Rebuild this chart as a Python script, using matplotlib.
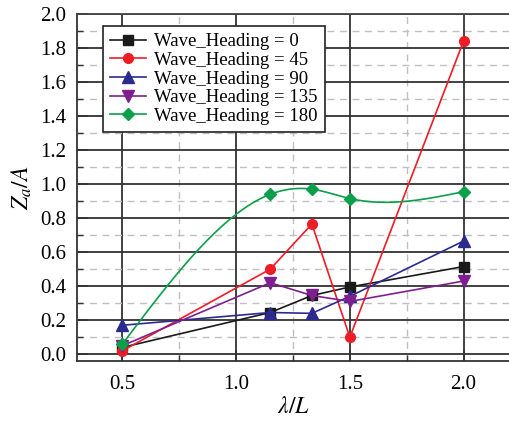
import numpy as np
import matplotlib
matplotlib.use("Agg")
import matplotlib.pyplot as plt
from matplotlib.ticker import MultipleLocator

plt.rcParams['font.family'] = ['Liberation Serif', 'DejaVu Serif']
plt.rcParams['mathtext.fontset'] = 'stix'

wave_length_ratio = [0.5, 1.15, 1.333, 1.5, 2.0]
heading_0 = [0.04, 0.245, 0.345, 0.395, 0.515]
heading_45 = [0.02, 0.50, 0.765, 0.10, 1.84]
heading_90 = [0.17, 0.245, 0.24, 0.34, 0.665]
heading_135 = [0.05, 0.42, 0.345, 0.31, 0.43]
heading_180 = [0.06, 0.94, 0.97, 0.915, 0.955]
labels = ['Wave_Heading = 0', 'Wave_Heading = 45', 'Wave_Heading = 90',
          'Wave_Heading = 135', 'Wave_Heading = 180']


def natural_spline(x, y, xs):
    x = np.asarray(x, float); y = np.asarray(y, float)
    n = len(x)
    h = np.diff(x)
    A = np.zeros((n, n)); b = np.zeros(n)
    A[0, 0] = 1; A[-1, -1] = 1
    for i in range(1, n - 1):
        A[i, i - 1] = h[i - 1]
        A[i, i] = 2 * (h[i - 1] + h[i])
        A[i, i + 1] = h[i]
        b[i] = 3 * ((y[i + 1] - y[i]) / h[i] - (y[i] - y[i - 1]) / h[i - 1])
    c = np.linalg.solve(A, b)
    out = np.empty_like(xs)
    for k, xv in enumerate(xs):
        i = min(max(np.searchsorted(x, xv) - 1, 0), n - 2)
        bi = (y[i + 1] - y[i]) / h[i] - h[i] * (2 * c[i] + c[i + 1]) / 3
        di = (c[i + 1] - c[i]) / (3 * h[i])
        dx = xv - x[i]
        out[k] = y[i] + bi * dx + c[i] * dx ** 2 + di * dx ** 3
    return out


fig = plt.figure(figsize=(5.09, 4.23), dpi=100)
ax = fig.add_axes([0.1513, 0.1466, 0.8487, 0.8204])

colors = ['#1a1a1a', '#ee1c25', '#2b2b8f', '#7f1f8f', '#0a9f4a']
markers = ['s', 'o', '^', 'v', 'D']
msizes = [7, 7, 8, 8, 6.5]
series = [heading_0, heading_45, heading_90, heading_135, heading_180]

for i, (ys, c, m, ms, lab) in enumerate(zip(series, colors, markers, msizes, labels)):
    if i == 4:
        xs = np.linspace(wave_length_ratio[0], wave_length_ratio[-1], 300)
        ax.plot(xs, natural_spline(wave_length_ratio, ys, xs), color=c, lw=1.2, zorder=3)
        ax.plot(wave_length_ratio, ys, ls='none', marker=m, color=c, ms=ms, zorder=4)
        ax.plot([], [], color=c, marker=m, ms=ms, lw=1.2, label=lab)
    else:
        ax.plot(wave_length_ratio, ys, color=c, marker=m, ms=ms, lw=1.2, label=lab, zorder=3)

ax.set_xlim(0.3, 2.2)
ax.set_ylim(-0.04, 2.0)
ax.xaxis.set_minor_locator(MultipleLocator(0.25))
ax.yaxis.set_minor_locator(MultipleLocator(0.1))
ax.set_xticks([0.5, 1.0, 1.5, 2.0])
ax.set_xticklabels(['0.5', '1.0', '1.5', '2.0'])
ax.set_yticks(np.round(np.arange(0, 2.01, 0.2), 1))
ax.set_yticklabels(['%.1f' % v for v in np.arange(0, 2.01, 0.2)])

ax.grid(which='major', color='#333333', lw=1.3, ls='-', zorder=0)
ax.grid(which='minor', color='#c0c0c0', lw=1.0, ls=(0, (5, 4)), zorder=0)
ax.set_axisbelow(True)
ax.tick_params(which='both', direction='in', labelsize=15, color='#333333')
ax.tick_params(which='major', length=8, width=1.2)
ax.tick_params(which='minor', length=4, width=1.0)
ax.tick_params(axis='x', which='major', pad=10)
ax.tick_params(axis='y', which='major', pad=8)

ax.spines['right'].set_visible(False)
ax.spines['top'].set_color('#444444')
ax.spines['top'].set_linewidth(1.3)
ax.spines['left'].set_color('#333333')
ax.spines['left'].set_linewidth(1.3)
ax.spines['bottom'].set_color('#333333')
ax.spines['bottom'].set_linewidth(1.3)

ax.set_xlabel(r'$\lambda/L$', fontsize=17, labelpad=2)
ax.set_ylabel(r'$Z_a/A$', fontsize=17, labelpad=4)

leg = ax.legend(loc='upper left', bbox_to_anchor=(0.06, 0.966), fontsize=13.5,
                frameon=True, fancybox=False, edgecolor='#222222', framealpha=1,
                handlelength=1.9, handletextpad=0.4, borderpad=0.4,
                labelspacing=0.08, borderaxespad=0)
leg.get_frame().set_linewidth(1.2)

fig.savefig('out.png', dpi=100)
